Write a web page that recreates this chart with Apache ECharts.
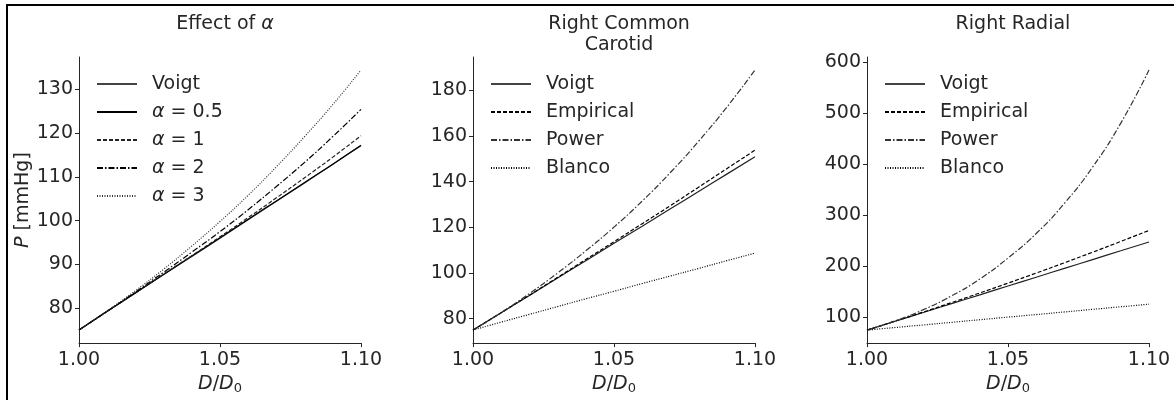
<!DOCTYPE html>
<html>
<head>
<meta charset="utf-8">
<script src="https://cdn.jsdelivr.net/npm/echarts@6/dist/echarts.min.js"></script>
<style>
html,body{margin:0;padding:0;background:#fff;}
#c{width:1174px;height:400px;}
</style>
</head>
<body>
<div id="c"></div>
<script>
// ---- data ----
const xVals = [1.00, 1.01, 1.02, 1.03, 1.04, 1.05, 1.06, 1.07, 1.08, 1.09, 1.10];
const xTicks = [1.00, 1.05, 1.10];

// Panel 1: Effect of alpha
const p1Names = ['Voigt', 'α = 0.5', 'α = 1', 'α = 2', 'α = 3'];
const p1Voigt  = [75.0, 79.3, 83.5, 87.7, 91.8, 96.0, 100.2, 104.4, 108.6, 112.9, 117.1];
const p1A05    = [75.0, 79.3, 83.5, 87.7, 91.9, 96.1, 100.3, 104.5, 108.7, 112.9, 117.2];
const p1A1     = [75.0, 79.3, 83.5, 87.8, 92.0, 96.3, 100.7, 105.2, 109.8, 114.5, 119.4];
const p1A2     = [75.0, 79.3, 83.7, 88.2, 92.8, 97.5, 102.5, 107.8, 113.3, 119.2, 125.4];
const p1A3     = [75.0, 79.4, 84.0, 88.9, 94.2, 99.8, 105.8, 112.3, 119.2, 126.5, 134.4];
const p1YTicks = [80, 90, 100, 110, 120, 130];

// Panel 2: Right Common Carotid
const p2Names = ['Voigt', 'Empirical', 'Power', 'Blanco'];
const p2Voigt  = [75.0, 82.6, 90.2, 97.8, 105.4, 113.0, 120.5, 128.1, 135.7, 143.3, 150.9];
const p2Emp    = [75.0, 82.6, 90.3, 98.1, 105.9, 113.7, 121.6, 129.5, 137.6, 145.7, 153.8];
const p2Power  = [75.0, 82.7, 91.0, 100.0, 109.7, 120.1, 131.5, 144.0, 157.7, 172.6, 188.9];
const p2Blanco = [75.0, 78.5, 81.9, 85.3, 88.7, 92.0, 95.4, 98.7, 102.0, 105.4, 108.7];
const p2YTicks = [80, 100, 120, 140, 160, 180];

// Panel 3: Right Radial
const p3Names = ['Voigt', 'Empirical', 'Power', 'Blanco'];
const p3Voigt  = [75.0, 92.3, 109.5, 126.8, 144.0, 161.3, 178.5, 195.8, 213.0, 230.3, 247.5];
const p3Emp    = [75.0, 92.5, 110.4, 128.8, 147.6, 166.9, 186.6, 206.8, 227.4, 248.5, 270.0];
const p3Power  = [75.0, 93.0, 115.0, 142.0, 175.0, 216.0, 264.0, 323.0, 394.0, 480.0, 584.0];
const p3Blanco = [75.0, 80.1, 85.1, 90.2, 95.3, 100.4, 105.4, 110.5, 115.6, 120.6, 125.7];
const p3YTicks = [100, 200, 300, 400, 500, 600];

const titles = ['Effect of {i|α}', 'Right Common\nCarotid', 'Right Radial'];

// ---- styles ----
const FONT = 'DejaVu Sans';
const FS = 19;
const TXT = '#262626';
const SOLID = 'solid';
const DASHED = [4, 2];
const DASHDOT = [6, 2, 1.5, 2];
const DOTTED = [1, 1.5];

function zip(ys){ return xVals.map((x,i)=>[x, ys[i]]); }
function lims(arrs){
  let mn = Infinity, mx = -Infinity;
  arrs.forEach(a=>a.forEach(v=>{mn=Math.min(mn,v);mx=Math.max(mx,v);}));
  const m = (mx-mn)*0.05;
  return [mn-m, mx+m];
}

const gridLefts = [79, 473, 867];
const GW = 282, GT = 57, GH = 291;

const panels = [
  {names:p1Names, data:[p1Voigt,p1A05,p1A1,p1A2,p1A3], styles:[
    {c:'#444', t:SOLID},{c:'#000', t:SOLID},{c:'#222', t:DASHED},{c:'#000', t:DASHDOT},{c:'#333', t:DOTTED}], ticks:p1YTicks},
  {names:p2Names, data:[p2Voigt,p2Emp,p2Power,p2Blanco], styles:[
    {c:'#222', t:SOLID},{c:'#000', t:DASHED},{c:'#333', t:DASHDOT},{c:'#000', t:DOTTED}], ticks:p2YTicks},
  {names:p3Names, data:[p3Voigt,p3Emp,p3Power,p3Blanco], styles:[
    {c:'#222', t:SOLID},{c:'#000', t:DASHED},{c:'#333', t:DASHDOT},{c:'#000', t:DOTTED}], ticks:p3YTicks}
];

const grid=[], xAxis=[], yAxis=[], series=[], legend=[], title=[];
panels.forEach((p, k)=>{
  grid.push({left:gridLefts[k], top:GT, width:GW, height:GH, containLabel:false});
  const axisCommon = {
    axisLine:{show:true, onZero:false, lineStyle:{color:TXT, width:1}},
    axisTick:{show:true, inside:false, length:4, lineStyle:{color:TXT, width:1}},
    splitLine:{show:false},
    axisLabel:{color:TXT, fontFamily:FONT, fontSize:FS}
  };
  xAxis.push(Object.assign({}, axisCommon, {
    type:'value', gridIndex:k, min:1.0, max:1.1,
    axisLabel:Object.assign({}, axisCommon.axisLabel, {margin:7, customValues:xTicks, formatter:v=>v.toFixed(2)}),
    axisTick:Object.assign({}, axisCommon.axisTick, {customValues:xTicks}),
    name:'{i|D}/{i|D}{s|0}', nameLocation:'middle', nameGap:26,
    nameTextStyle:{color:TXT, fontFamily:FONT, fontSize:FS, rich:{
      i:{fontStyle:'italic', fontSize:FS, fontFamily:FONT, color:TXT, lineHeight:22},
      s:{fontSize:13, fontFamily:FONT, color:TXT, lineHeight:22, verticalAlign:'bottom', padding:[8,0,0,0]}
    }}
  }));
  const [mn, mx] = lims(p.data);
  const ya = Object.assign({}, axisCommon, {
    type:'value', gridIndex:k, min:mn, max:mx,
    axisLabel:Object.assign({}, axisCommon.axisLabel, {margin:6, customValues:p.ticks}),
    axisTick:Object.assign({}, axisCommon.axisTick, {customValues:p.ticks})
  });
  if(k===0){
    ya.name = '{i|P} [mmHg]';
    ya.nameLocation = 'middle';
    ya.nameGap = 43;
    ya.nameRotate = 90;
    ya.nameTextStyle = {color:TXT, fontFamily:FONT, fontSize:FS, rich:{i:{fontStyle:'italic', fontFamily:FONT, fontSize:FS, color:TXT}}};
  }
  yAxis.push(ya);
  p.names.forEach((nm, j)=>{
    series.push({
      type:'line', name:nm, xAxisIndex:k, yAxisIndex:k, data:zip(p.data[j]),
      showSymbol:false, symbol:'none', smooth:true, animation:false,
      lineStyle:{color:p.styles[j].c, width:1.2, type:p.styles[j].t},
      itemStyle:{color:p.styles[j].c},
      z: 2 + j
    });
  });
  legend.push({
    data:p.names, orient:'vertical', left:gridLefts[k]+17, top:74, padding:0,
    itemWidth:40, itemHeight:14, itemGap:8, selectedMode:false,
    itemStyle:{opacity:0},
    textStyle:{color:TXT, fontFamily:FONT, fontSize:FS, lineHeight:20, padding:[0,0,0,10],
      rich:{i:{fontStyle:'italic', fontFamily:FONT, fontSize:FS, color:TXT, lineHeight:20}}},
    formatter:n=>n.replace('α','{i|α}')
  });
  title.push({
    text:titles[k], left:gridLefts[k]+GW/2, top:9, textAlign:'center',
    textStyle:{color:TXT, fontFamily:FONT, fontSize:FS, fontWeight:'normal', lineHeight:21,
      rich:{i:{fontStyle:'italic', fontFamily:FONT, fontSize:FS, color:TXT, lineHeight:21}}}
  });
});

const chart = echarts.init(document.getElementById('c'), null, {renderer:'canvas'});
chart.setOption({
  backgroundColor:'#fff',
  animation:false,
  title, grid, xAxis, yAxis, series, legend,
  graphic:[
    {type:'line', shape:{x1:6, y1:5, x2:1174, y2:5}, style:{stroke:'#000', lineWidth:2}},
    {type:'line', shape:{x1:7, y1:4, x2:7, y2:400}, style:{stroke:'#000', lineWidth:2}}
  ]
});
</script>
</body>
</html>
